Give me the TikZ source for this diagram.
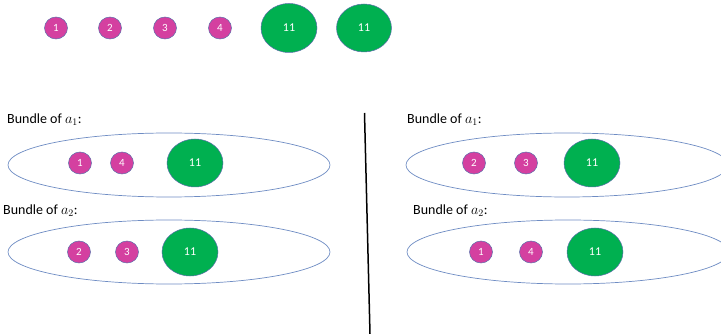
\documentclass[tikz,border=0pt]{standalone}
\usepackage{fontspec}
\setmainfont{Carlito}
\usetikzlibrary{shapes.geometric}
\definecolor{mag}{RGB}{212,64,160}
\definecolor{grn}{RGB}{0,176,80}
\definecolor{rim}{RGB}{90,110,170}
\definecolor{bndl}{RGB}{110,140,195}
\tikzset{
  small/.style={ellipse, fill=mag, draw=rim, line width=0.5pt, minimum width=23pt, minimum height=22pt, inner sep=0pt, text=white, font=\fontsize{11}{12}\selectfont},
  big/.style={ellipse, fill=grn, draw=rim, line width=0.5pt, minimum width=56pt, minimum height=48pt, inner sep=0pt, text=white, font=\fontsize{12}{13}\selectfont},
  bundle/.style={ellipse, draw=bndl, line width=0.7pt, minimum width=322pt, minimum height=64pt, inner sep=0pt},
  lbl/.style={anchor=west, inner sep=0pt, font=\fontsize{14}{16}\selectfont}
}
\begin{document}
\begin{tikzpicture}[x=1pt,y=-1pt]
\useasboundingbox (0,0) rectangle (721,334);
% top row
\node[small] (t1) at (56,28) {1};
\node[small] (t2) at (110,28) {2};
\node[small] (t3) at (165,28) {3};
\node[small] (t4) at (220,28) {4};
\node[big, minimum height=49pt] (t11a) at (289,28) {11};
\node[big, minimum width=55pt] (t11b) at (364,28) {11};
% left panel
\node[lbl] (la1) at (7,120) {Bundle of $a_1$:};
\node[bundle] (le1) at (169,165) {};
\node[small] (l1) at (80,163) {1};
\node[small] (l4) at (122,163) {4};
\node[big] (l11a) at (195,163) {11};
\node[lbl] (la2) at (3,211) {Bundle of $a_2$:};
\node[bundle] (le2) at (169,252) {};
\node[small] (l2) at (79,252) {2};
\node[small] (l3) at (127,252) {3};
\node[big] (l11b) at (190,252) {11};
% divider
\coordinate (dtop) at (364.5,113);
\coordinate (dbot) at (370,334);
\draw[line width=1.5pt] (dtop) -- (dbot);
% right panel
\node[lbl] (ra1) at (407,120) {Bundle of $a_1$:};
\node[bundle] (re1) at (567,165) {};
\node[small] (r2) at (474,163) {2};
\node[small] (r3) at (526,163) {3};
\node[big] (r11a) at (592,163) {11};
\node[lbl] (ra2) at (413,211) {Bundle of $a_2$:};
\node[bundle] (re2) at (568,252) {};
\node[small] (r1) at (481,252) {1};
\node[small] (r4) at (531,252) {4};
\node[big] (r11b) at (595,252) {11};
\end{tikzpicture}
\end{document}
